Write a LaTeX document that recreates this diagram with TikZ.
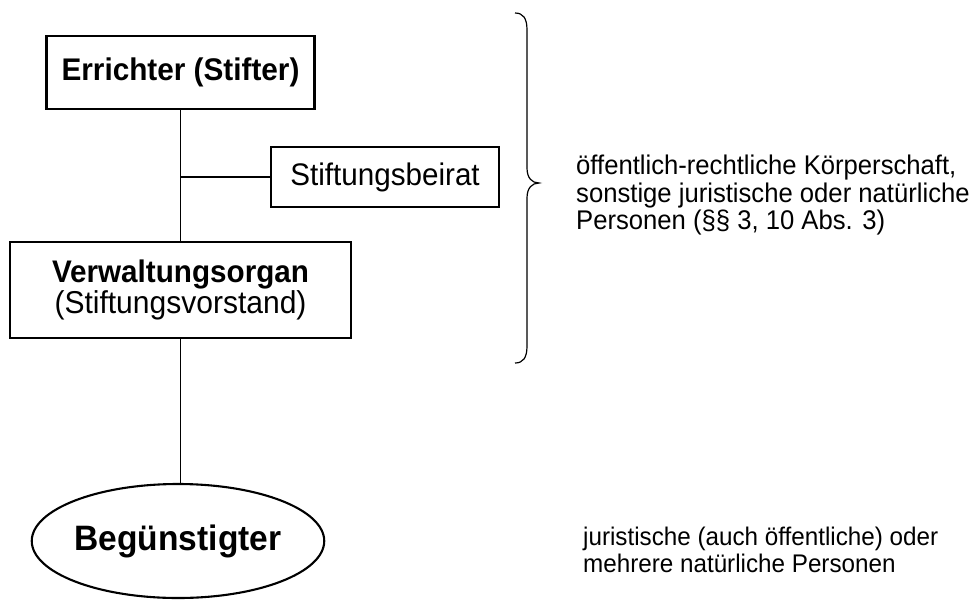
\documentclass[tikz,border=0pt]{standalone}
\usepackage{fontspec}
\setmainfont{Liberation Sans}[FakeStretch=0.95]
\usetikzlibrary{shapes.geometric}
\begin{document}
\begin{tikzpicture}[x=1pt,y=-1pt,
  box/.style={draw, line width=2.3pt, inner sep=0pt, align=center},
  conn/.style={line width=1.1pt},
  note/.style={anchor=base west, inner sep=0pt, font=\fontsize{27}{27}\selectfont},
  note2/.style={anchor=base west, inner sep=0pt, font=\fontsize{25.5}{27}\selectfont}
]
\useasboundingbox (0,0) rectangle (972,600);
\node[box, minimum width=268pt, minimum height=73pt, font=\fontsize{31.3}{32}\selectfont\bfseries] (err) at (180.5,72.5) {Errichter (Stifter)};
\node[box, minimum width=228pt, minimum height=60pt, font=\fontsize{31.2}{32}\selectfont] (beirat) at (385,177) {Stiftungsbeirat};
\node[box, minimum width=341pt, minimum height=96pt] (verw) at (180.5,290) {{\fontsize{31.2}{33.4}\selectfont\bfseries Verwaltungsorgan}\\{\fontsize{31.6}{33.4}\selectfont (Stiftungsvorstand)}};
\node[draw, ellipse, line width=2.1pt, inner sep=0pt, minimum width=280pt, minimum height=114pt, font=\fontsize{35.3}{36}\selectfont\bfseries] (ell) at (178,541) {Begünstigter};
\draw[conn] (err.south) -- (verw.north);
\coordinate (j) at (err.south |- beirat.west);
\draw[conn] (j) -- (beirat.west);
\draw[conn] (verw.south) -- (verw.south |- ell.north);
\draw[line width=1.2pt] (515,13) .. controls (523,13) and (527,18) .. (527,30) -- (527,168) .. controls (527,178) and (532,183) .. (539,183) .. controls (532,183) and (527,188) .. (527,198) -- (527,346) .. controls (527,358) and (523,363) .. (515,363);
\node[note] (t1) at (576,174.5) {öffentlich-rechtliche Körperschaft,};
\node[note] (t2) at (576,202) {sonstige juristische oder natürliche};
\node[note] (t3) at (576,229.5) {Personen (§§ 3, 10 Abs. 3)};
\node[note2] (b1) at (583,545) {juristische (auch öffentliche) oder};
\node[note2] (b2) at (583,572) {mehrere natürliche Personen};
\end{tikzpicture}
\end{document}
